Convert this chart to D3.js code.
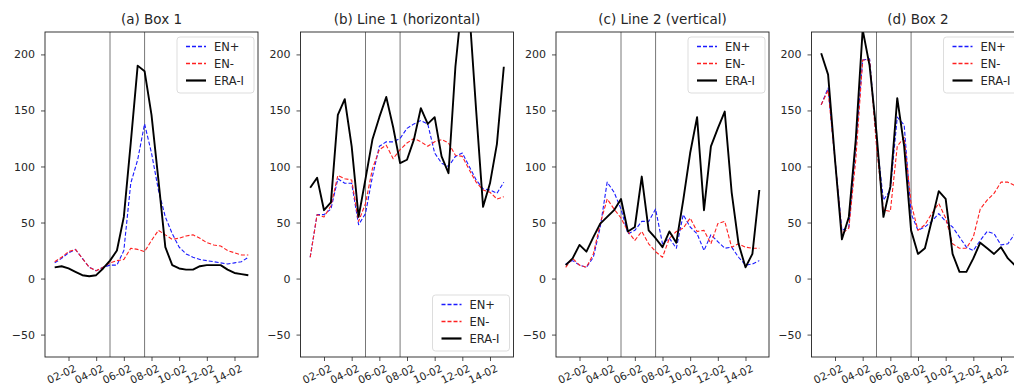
<!DOCTYPE html>
<html>
<head>
<meta charset="utf-8">
<script src="https://cdn.jsdelivr.net/npm/d3@7"></script>
<style>
    body { margin: 0; background: #fff; }
    text { font-family: "DejaVu Sans", sans-serif; fill: #262626; }
</style>
</head>
<body>
<script>
"use strict";
// time axis in days since 01-02, every 12 hours
const days = [0, 0.5, 1, 1.5, 2, 2.5, 3, 3.5, 4, 4.5, 5, 5.5, 6, 6.5, 7, 7.5,
    8, 8.5, 9, 9.5, 10, 10.5, 11, 11.5, 12, 12.5, 13, 13.5, 14]
const tickDays = [1, 3, 5, 7, 9, 11, 13]
const tickLabels = ["02-02", "04-02", "06-02", "08-02", "10-02", "12-02", "14-02"]
const yTicks = [-50, 0, 50, 100, 150, 200]
const markerDays = [4, 6.5]
const seriesNames = ["EN+", "EN-", "ERA-I"]
const panelTitles = ["(a) Box 1", "(b) Line 1 (horizontal)", "(c) Line 2 (vertical)", "(d) Box 2"]

// (a) Box 1
const box1EnPlus = [14, 18, 23, 26, 18, 10, 7, 10, 12, 12, 25, 85, 106, 138, 112, 79, 55, 40, 28, 22, 19, 17, 16, 15, 14, 13, 14, 15, 19]
const box1EnMinus = [15, 19, 24, 26, 18, 10, 7, 10, 14, 16, 17, 27, 26, 24, 34, 43, 39, 35, 36, 38, 39, 36, 32, 30, 29, 25, 23, 21, 21]
const box1Era = [10, 11, 9, 6, 3, 2, 3, 9, 16, 25, 55, 121, 190, 185, 146, 88, 28, 12, 9, 8, 8, 11, 12, 12, 12, 8, 5, 4, 3]

// (b) Line 1 (horizontal)
const line1EnPlus = [19, 57, 57, 62, 89, 85, 85, 48, 58, 91, 118, 122, 122, 125, 134, 138, 141, 138, 112, 103, 100, 109, 112, 100, 88, 80, 79, 76, 86]
const line1EnMinus = [19, 57, 55, 65, 92, 89, 88, 51, 67, 98, 115, 119, 107, 115, 121, 125, 122, 118, 122, 124, 121, 110, 109, 97, 86, 79, 77, 71, 73]
const line1Era = [81, 90, 61, 68, 146, 160, 118, 55, 89, 124, 144, 162, 135, 103, 106, 124, 152, 138, 144, 109, 94, 189, 250, 240, 150, 64, 85, 120, 189]

// (c) Line 2 (vertical)
const line2EnPlus = [13, 16, 12, 10, 19, 46, 86, 77, 62, 40, 43, 51, 51, 62, 31, 36, 27, 57, 46, 40, 25, 39, 33, 27, 28, 19, 12, 13, 16]
const line2EnMinus = [10, 18, 12, 10, 22, 49, 71, 62, 54, 42, 34, 42, 31, 24, 19, 36, 42, 45, 54, 42, 43, 31, 49, 51, 28, 31, 28, 27, 27]
const line2Era = [12, 18, 30, 24, 37, 49, 55, 61, 71, 42, 46, 91, 43, 36, 28, 42, 32, 70, 112, 144, 61, 118, 134, 149, 77, 31, 10, 22, 79]

// (d) Box 2
const box2EnPlus = [155, 170, 106, 43, 46, 118, 195, 196, 124, 70, 79, 144, 137, 58, 43, 46, 51, 58, 51, 46, 37, 28, 25, 34, 42, 40, 30, 31, 40]
const box2EnMinus = [155, 168, 106, 40, 45, 106, 195, 195, 118, 61, 60, 118, 126, 67, 43, 48, 58, 67, 54, 31, 27, 27, 37, 62, 70, 76, 86, 86, 83]
const box2Era = [201, 182, 106, 35, 55, 124, 222, 190, 130, 55, 82, 161, 118, 43, 22, 27, 52, 78, 71, 22, 6, 6, 18, 32, 27, 22, 28, 18, 12]

const panelSeries = [
    [box1EnPlus, box1EnMinus, box1Era],
    [line1EnPlus, line1EnMinus, line1Era],
    [line2EnPlus, line2EnMinus, line2Era],
    [box2EnPlus, box2EnMinus, box2Era]
]

;(function(){
    const measurements = {
        width: 1014,
        height: 389,
        firstLeft: 45,
        pitch: 255.5,
        plotWidth: 213,
        top: 32,
        bottom: 357
    }
    // styles for EN+, EN-, ERA-I
    const styles = [
        { color: "#1a1aff", width: 1.1, dash: "4,2" },
        { color: "#ff2020", width: 1.1, dash: "4,2" },
        { color: "#000000", width: 1.9, dash: null }
    ]
    // legend in upper right except panel (b)
    const legendAtBottom = [false, true, false, false]

    let svgContainer = d3.select('body').append('svg')
        .attr('width', measurements.width)
        .attr('height', measurements.height)

    let scaleX = d3.scaleLinear()
        .domain([-0.7, 14.7])
        .range([0, measurements.plotWidth])
    let scaleY = d3.scaleLinear()
        .domain([-70, 220])
        .range([measurements.bottom - measurements.top, 0])

    panelSeries.forEach((series, k) => drawPanel(series, k))

    function drawPanel(series, k) {
        const plotHeight = measurements.bottom - measurements.top
        let g = svgContainer.append('g')
            .attr('transform', 'translate(' + (measurements.firstLeft + k * measurements.pitch) + ',' + measurements.top + ')')

        g.append('clipPath').attr('id', 'clip' + k)
            .append('rect')
            .attr('width', measurements.plotWidth)
            .attr('height', plotHeight)

        // title
        g.append('text')
            .attr('x', measurements.plotWidth / 2)
            .attr('y', -8)
            .attr('text-anchor', 'middle')
            .attr('font-size', '13.5px')
            .text(panelTitles[k])

        // axes
        let xAxis = d3.axisBottom(scaleX)
            .tickValues(tickDays)
            .tickFormat((d, i) => tickLabels[i])
            .tickSize(4)
            .tickSizeOuter(0)
        let yAxis = d3.axisLeft(scaleY)
            .tickValues(yTicks)
            .tickFormat(d => d < 0 ? "\u2212" + Math.abs(d) : d)
            .tickSize(4)
            .tickPadding(6)
            .tickSizeOuter(0)

        let gx = g.append('g')
            .attr('transform', 'translate(0,' + plotHeight + ')')
            .call(xAxis)
        gx.selectAll('text')
            .attr('font-size', '10.5px')
            .attr('text-anchor', 'end')
            .attr('x', 8)
            .attr('y', 14)
            .attr('dy', 0)
            .attr('transform', 'rotate(-25, 8, 14)')
        let gy = g.append('g').call(yAxis)
        gy.selectAll('text').attr('font-size', '11px')
        ;[gx, gy].forEach(a => {
            a.select('.domain').remove()
            a.selectAll('line').attr('stroke', '#222').attr('stroke-width', 0.8)
            a.selectAll('text').style('font-family', '"DejaVu Sans", sans-serif').attr('fill', '#262626')
        })

        // event markers
        g.selectAll('.marker')
            .data(markerDays)
            .enter()
            .append('line')
                .attr('x1', d => scaleX(d))
                .attr('x2', d => scaleX(d))
                .attr('y1', 0)
                .attr('y2', plotHeight)
                .attr('stroke', '#555')
                .attr('stroke-width', 0.8)

        // series lines
        const line = d3.line()
            .x((d, i) => scaleX(days[i]))
            .y(d => scaleY(d))
        let lines = g.append('g').attr('clip-path', 'url(#clip' + k + ')')
        series.forEach((values, s) => {
            lines.append('path')
                .datum(values)
                .attr('d', line)
                .attr('fill', 'none')
                .attr('stroke', styles[s].color)
                .attr('stroke-width', styles[s].width)
                .attr('stroke-dasharray', styles[s].dash)
                .attr('stroke-linejoin', 'round')
        })

        // frame
        g.append('rect')
            .attr('width', measurements.plotWidth)
            .attr('height', plotHeight)
            .attr('fill', 'none')
            .attr('stroke', '#222')
            .attr('stroke-width', 0.9)

        drawLegend(g, legendAtBottom[k] ? plotHeight - 62 : 5)
    }

    function drawLegend(g, top) {
        const left = measurements.plotWidth - 81
        let lg = g.append('g').attr('transform', 'translate(' + left + ',' + top + ')')
        lg.append('rect')
            .attr('width', 77)
            .attr('height', 56)
            .attr('rx', 3)
            .attr('fill', 'rgba(255,255,255,0.85)')
            .attr('stroke', '#d4d4d4')
            .attr('stroke-width', 0.8)
        seriesNames.forEach((name, s) => {
            const y = 9.5 + s * 17
            lg.append('line')
                .attr('x1', 9).attr('x2', 29)
                .attr('y1', y).attr('y2', y)
                .attr('stroke', styles[s].color)
                .attr('stroke-width', styles[s].width + 0.3)
                .attr('stroke-dasharray', styles[s].dash)
            lg.append('text')
                .attr('x', 37)
                .attr('y', y + 4)
                .attr('font-size', '11.5px')
                .text(name)
        })
    }
})()
</script>
</body>
</html>
